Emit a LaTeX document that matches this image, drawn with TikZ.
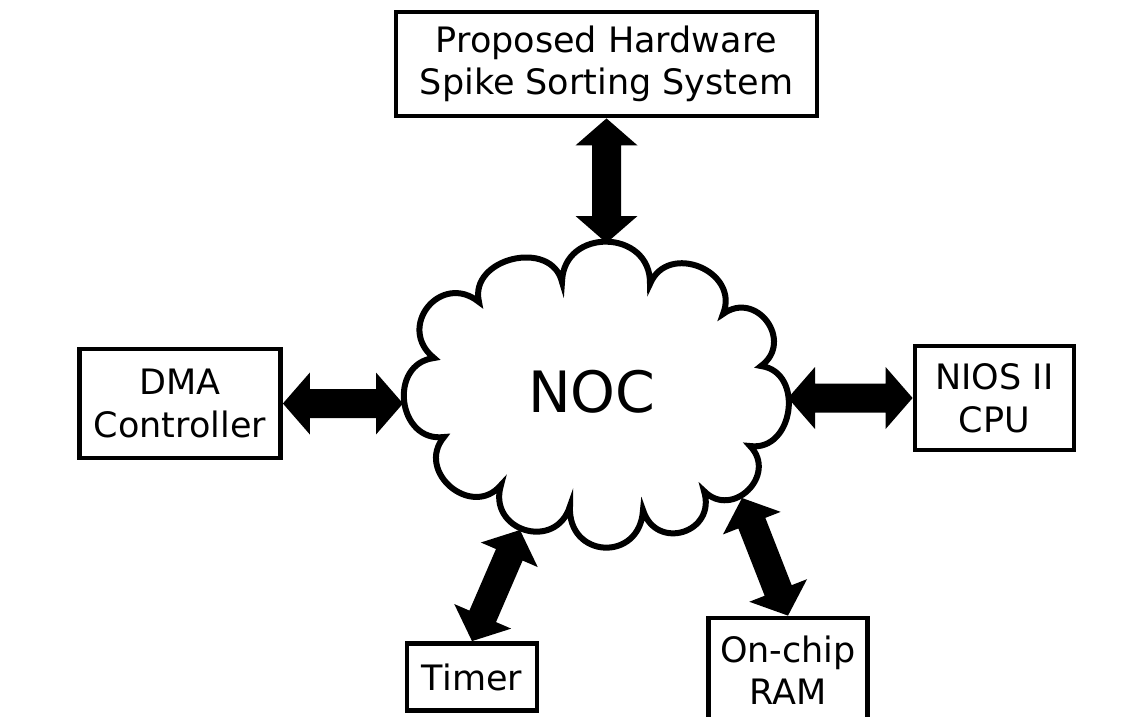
\documentclass[tikz,border=0pt]{standalone}
\usepackage{fontspec}
\setmainfont{DejaVu Sans}
\usetikzlibrary{calc}
\tikzset{
  box/.style={draw, line width=4.8pt, align=center, inner sep=0pt, font=\fontsize{35}{42.5}\selectfont},
  bump/.style={bend left=90, looseness=#1},
}
\newcommand\dblarr[2]{%
  \coordinate (h1) at ($(#1)!27pt!(#2)$);
  \coordinate (h2) at ($(#2)!27pt!(#1)$);
  \fill (#1) -- ($(h1)!31pt!90:(#2)$) -- ($(h1)!14.5pt!90:(#2)$)
     -- ($(h2)!14.5pt!-90:(#1)$) -- ($(h2)!31pt!-90:(#1)$) -- (#2)
     -- ($(h2)!31pt!90:(#1)$) -- ($(h2)!14.5pt!90:(#1)$)
     -- ($(h1)!14.5pt!-90:(#2)$) -- ($(h1)!31pt!-90:(#2)$) -- cycle;}
\begin{document}
\begin{tikzpicture}[x=1pt, y=-1pt]
\useasboundingbox (0,0) rectangle (1140,716);
\fill[white] (0,0) rectangle (1140,716);
% boxes
\node[box, minimum width=421pt, minimum height=104pt] (top) at (606.5,64) {Proposed Hardware\\Spike Sorting System};
\node[box, minimum width=201pt, minimum height=109pt] (dma) at (180,403.5) {DMA\\Controller};
\node[box, minimum width=159pt, minimum height=104pt] (nios) at (994.5,398) {NIOS II\\CPU};
\node[box, minimum width=130pt, minimum height=67pt] (timer) at (472,677) {Timer};
\node[box, minimum width=158.5pt, minimum height=104pt] (ram) at (788,670) {On-chip\\RAM};
% cloud
\draw[line width=6pt, fill=white, line join=miter]
  (562,282) to[bump=1.6] (650,284) to[bump=1.5] (723,314) to[bump=1.65] (761,366)
  to[bump=1.4] (750,446) to[bump=1.6] (704,491) to[bump=1.75] (643,510)
  to[bump=1.85] (570,506) to[bump=1.7] (501,485) to[bump=1.55] (444,437)
  to[bump=1.5] (434,358) to[bump=1.75] (479,302) to[bump=1.35] cycle;
\node[font=\fontsize{57}{60}\selectfont, inner sep=0pt] (noc) at (592,392) {NOC};
% connector end points on the cloud
\coordinate (cT) at (606.5,243);
\coordinate (cL) at (403,403.5);
\coordinate (cR) at (788,398);
\coordinate (cB1) at (520,530);
\coordinate (cB2) at (742,498);
% arrows
\dblarr{top.south}{cT}
\dblarr{dma.east}{cL}
\dblarr{cR}{nios.west}
\dblarr{cB1}{timer.north}
\dblarr{cB2}{ram.north}
\end{tikzpicture}
\end{document}
